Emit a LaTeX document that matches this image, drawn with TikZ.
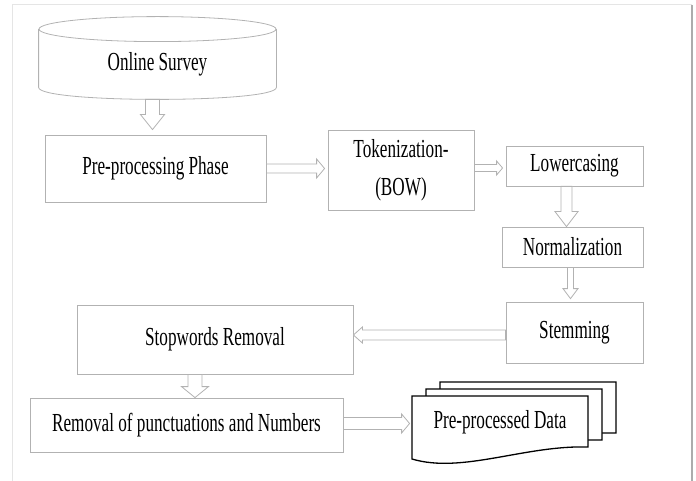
\documentclass[tikz,border=0pt]{standalone}
\usepackage{fontspec}
\setmainfont{Liberation Serif}[FakeStretch=0.66]
\usepackage{tikz}
\usetikzlibrary{calc}

% hollow block arrows between two points
\newcommand{\vblock}[5]{% from, to, half shaft, half head, head length
  \draw[blockarrow] let \p1=(#1), \p2=(#2) in
    ({\x1-#3},\y1) -- ({\x1-#3},{\y2+#5}) -- ({\x1-#4},{\y2+#5}) -- (\x1,\y2)
    -- ({\x1+#4},{\y2+#5}) -- ({\x1+#3},{\y2+#5}) -- ({\x1+#3},\y1) -- cycle;}
\newcommand{\hblock}[5]{% from, to, half shaft, half head, head length (negative = leftwards)
  \draw[blockarrow] let \p1=(#1), \p2=(#2) in
    (\x1,{\y1+#3}) -- ({\x2-(#5)},{\y1+#3}) -- ({\x2-(#5)},{\y1+#4}) -- (\x2,\y1)
    -- ({\x2-(#5)},{\y1-#4}) -- ({\x2-(#5)},{\y1-#3}) -- (\x1,{\y1-#3}) -- cycle;}

\begin{document}
\begin{tikzpicture}[
    x=1pt, y=-1pt,
    procbox/.style={rectangle, draw=gray!60, line width=0.8pt, inner sep=0pt,
                    font=\fontsize{26}{31}\selectfont},
    blockarrow/.style={draw=gray!60, fill=white, line width=0.8pt, line join=miter},
    docline/.style={draw=black, fill=white, line width=1.3pt, line join=miter},
    frameline/.style={draw=gray!20, line width=1pt}
]
    \useasboundingbox (0,0) rectangle (696,481);

    % Page frame
    \draw[frameline] (12,481) -- (12,5) -- (692,5);
    \draw[frameline, draw=gray!65, line width=1.2pt] (692,5) -- (692,481);

    % Data source (cylinder)
    \node[procbox, draw=none, minimum width=237pt, minimum height=45pt] (survey) at (157.5,64.5) {Online Survey};
    \draw[blockarrow, fill=none] ($(survey.north west)+(0,-12.5)$) -- (survey.south west)
        .. controls +(0,16) and +(0,16) .. (survey.south east) -- ($(survey.north east)+(0,-12.5)$);
    \draw[blockarrow, fill=none] ($(survey.north)+(0,-12.5)$) ellipse [x radius=118.5, y radius=12.5];

    % Processing steps
    \node[procbox, minimum width=221pt, minimum height=67pt] (pre) at (155.5,168.5) {Pre-processing Phase};
    \node[procbox, minimum width=146pt, minimum height=80pt, align=center,
          font=\fontsize{26}{38}\selectfont] (tok) at (401,170) {Tokenization-\\(BOW)};
    \node[procbox, minimum width=137pt, minimum height=40pt] (lower) at (574.5,166) {Lowercasing};
    \node[procbox, minimum width=141pt, minimum height=40pt] (norm) at (572.5,247) {Normalization};
    \node[procbox, minimum width=137pt, minimum height=61pt] (stem) at (574.5,332.5) {Stemming};
    \node[procbox, minimum width=276pt, minimum height=69pt] (stop) at (215,339.5) {Stopwords Removal};
    \node[procbox, minimum width=313pt, minimum height=54pt] (rem) at (186.5,425) {Removal of punctuations and Numbers};

    % Output documents
    \foreach \s in {2,1,0} {
        \draw[docline, shift={(\s*14,-\s*7)}] (412,396) -- (588,396) -- (588,447)
            .. controls (525,445) and (462,474) .. (412,459) -- cycle;
    }
    \node[procbox, draw=none, minimum width=176pt] (data) at (500,422) {Pre-processed Data};

    % Block arrows
    \vblock{$(survey.south)+(-5,12)$}{$(pre.north)+(0,-5)$}{7pt}{12pt}{15pt}
    \hblock{pre.east}{$(tok.west)+(-3,0)$}{4.5pt}{9.5pt}{8pt}
    \hblock{$(tok.east)+(0,-2)$}{$(lower.west)+(-3,2)$}{3.5pt}{7pt}{6pt}
    \vblock{$(lower.south)+(-8,0)$}{norm.north}{5.5pt}{11.5pt}{15pt}
    \vblock{$(norm.south)+(-2,0)$}{$(stem.north)+(0,-3)$}{3pt}{7.5pt}{10pt}
    \hblock{$(stem.west)+(0,2.5)$}{stop.east}{5pt}{8pt}{-9pt}
    \vblock{$(stop.south)+(-20,0)$}{rem.north}{7pt}{13.5pt}{11pt}
    \hblock{$(rem.east)+(0,-1.5)$}{$(data.west)+(-2,0)$}{6pt}{9.5pt}{8pt}
\end{tikzpicture}
\end{document}
